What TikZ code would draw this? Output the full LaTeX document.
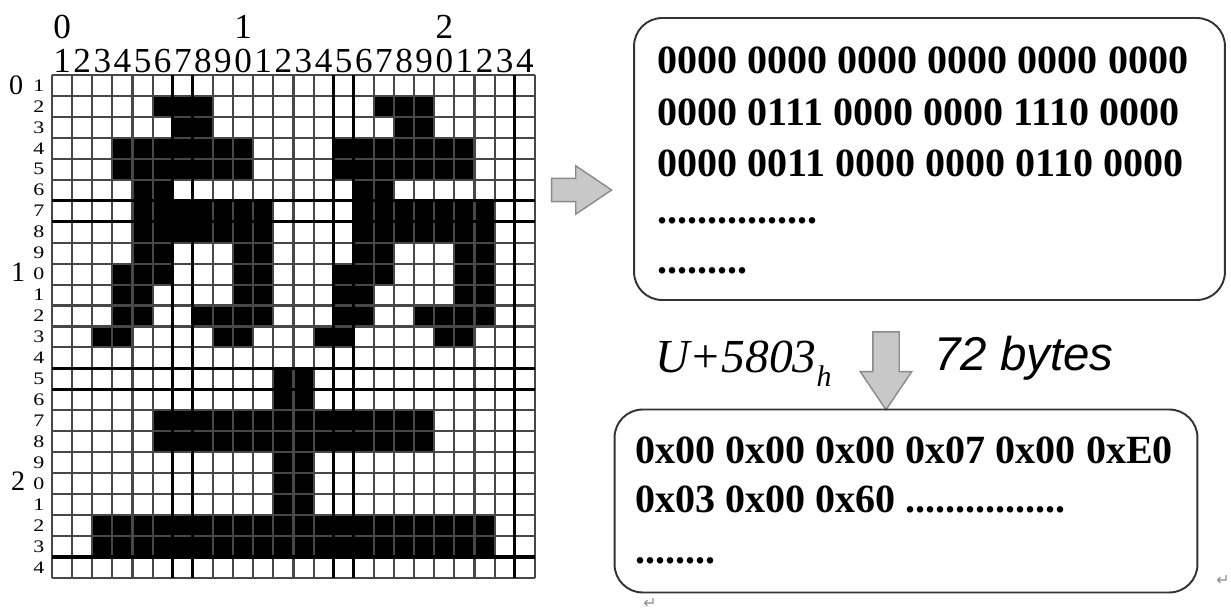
\documentclass[tikz,border=0pt]{standalone}
\usepackage{fontspec}
\setmainfont{Liberation Serif}
\newfontfamily\arialfont{Liberation Sans}
\newfontfamily\markfont{DejaVu Sans}
\usetikzlibrary{shapes.arrows,positioning}
\definecolor{shade}{HTML}{C8C8C8}
\definecolor{rim}{HTML}{8A8A8A}
\definecolor{frame}{HTML}{333333}

\begin{document}
\begin{tikzpicture}[x=0.02cm,y=-0.02cm,
  panel/.style={draw=frame,line width=1.1pt,rounded corners=16pt,inner sep=0pt},
  bits/.style={anchor=base west,inner sep=0pt,font=\fontsize{22.8}{24}\selectfont\bfseries},
  blockarrow/.style={single arrow,draw=rim,fill=shade,line width=0.8pt,
    inner xsep=0pt,inner ysep=0.22cm,single arrow tip angle=68},
  colnum/.style={anchor=base,inner sep=0pt,font=\fontsize{20}{20}\selectfont},
  rownum/.style={inner sep=0pt,font=\fontsize{10}{10}\selectfont},
  tensnum/.style={inner sep=0pt,font=\fontsize{16}{16}\selectfont},
  gridline/.style={draw=black!72,line width=1.2pt},
  heavyline/.style={draw=black,line width=1.8pt},
  pmark/.style={text=black!45,inner sep=0pt,font=\markfont\fontsize{9}{9}\selectfont}]
 \useasboundingbox (0,0) rectangle (1231,612);
 % bitmap of the glyph, 24 x 24 cells
 \begin{scope}[shift={(52,75)},x=0.4025cm,y=-0.4192cm]
  \foreach \r/\a/\b in {2/6/8,2/17/19,3/7/8,3/18/19,4/4/10,4/15/21,5/4/10,5/15/21,
      6/5/6,6/16/17,7/5/11,7/16/22,8/5/11,8/16/22,9/5/6,9/10/11,9/16/17,9/21/22,
      10/4/6,10/10/11,10/15/17,10/21/22,11/4/5,11/10/11,11/15/16,11/21/22,
      12/4/5,12/8/11,12/15/16,12/19/22,13/3/4,13/9/10,13/14/15,13/20/21,
      15/12/13,16/12/13,17/6/19,18/6/19,19/12/13,20/12/13,21/12/13,22/3/22,23/3/22}
    \fill (\a-1,\r-1) rectangle (\b,\r);
  \foreach \i in {0,...,24}{
    \draw[gridline] (\i,0) -- (\i,24);
    \draw[gridline] (0,\i) -- (24,\i);}
  \foreach \i in {6,7,14,15,23}{
    \draw[heavyline] (\i,0) -- (\i,24);
    \draw[heavyline] (0,\i) -- (24,\i);}
  % column and row numbers
  \foreach \c [evaluate=\c as \d using {int(mod(\c,10))}] in {1,...,24}
    \node[colnum] (c\c) at (\c-0.5,-0.1) {\d};
  \node[colnum] (c0x) at (0.5,-1.75) {0};
  \node[colnum] (c1x) at (9.5,-1.75) {1};
  \node[colnum] (c2x) at (19.5,-1.75) {2};
  \foreach \r [evaluate=\r as \d using {int(mod(\r,10))}] in {1,...,24}
    \node[rownum] (r\r) at (-0.65,\r-0.5) {\scalebox{1.25}[1]{\d}};
  \node[tensnum] (r0x) at (-1.78,0.5) {0};
  \node[tensnum] (r1x) at (-1.68,9.4) {1};
  \node[tensnum] (r2x) at (-1.68,19.4) {2};
 \end{scope}

 \node[blockarrow,minimum height=1.2cm,minimum width=0.96cm] (toBits) at (573,190) {};
 \node[panel,minimum width=11.82cm,minimum height=5.64cm] (binbox) at (929.5,159) {};
 \node[bits] (b1) at (657,73) {0000 0000 0000 0000 0000 0000};
 \node[bits] (b2) at (657,125) {0000 0111 0000 0000 1110 0000};
 \node[bits] (b3) at (657,176) {0000 0011 0000 0000 0110 0000};
 \node[bits] (b4) at (657,223) {................};
 \node[bits] (b5) at (657,273) {.........};

 \node[blockarrow,rotate=-90,minimum height=1.56cm,minimum width=0.9cm,inner ysep=0.25cm]
   (toHex) at (886,361) {};
 \node[anchor=base west,inner sep=0pt,font=\fontsize{27}{27}\selectfont\itshape] (code)
   at (655,372) {U+5803\raisebox{-0.3em}{\fontsize{17}{17}\selectfont h}};
 \node[anchor=base west,inner sep=0pt,font=\arialfont\fontsize{27}{27}\selectfont\itshape] (size)
   at (934,370) {72 bytes};

 \node[panel,minimum width=11.66cm,minimum height=3.66cm] (hexbox) at (906,501) {};
 \node[bits] (h1) at (635,463) {0x00 0x00 0x00 0x07 0x00 0xE0};
 \node[bits] (h2) at (635,512) {0x03 0x00 0x60 ................};
 \node[bits] (h3) at (635,563) {........};

 \node[pmark] (p1) at (1223,581) {↵};
 \node[pmark] (p2) at (650,604) {↵};
\end{tikzpicture}
\end{document}
